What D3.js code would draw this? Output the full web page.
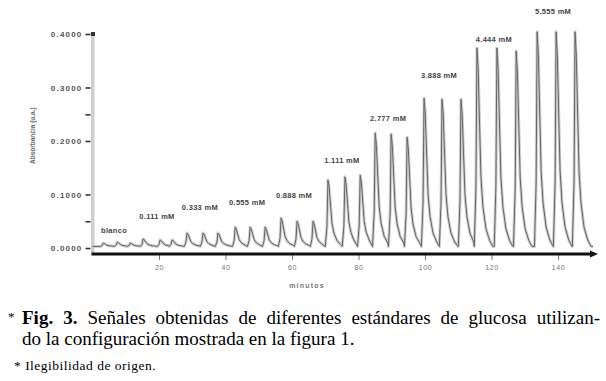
<!DOCTYPE html>
<html>
<head>
  <meta charset="utf-8">
  <title>Fig. 3</title>
  <script src="https://cdn.jsdelivr.net/npm/d3@7/dist/d3.min.js"></script>
  <style>body { margin: 0; background: #fff; }</style>
</head>
<body>
  <svg width="606" height="381" id="mainsvg"></svg>
  <script>
    // standards, three injections each
    const standards = ['blanco', '0.111 mM', '0.333 mM', '0.555 mM', '0.888 mM',
      '1.111 mM', '2.777 mM', '3.888 mM', '4.444 mM', '5.555 mM'];
    // apex time of every peak (min)
    const peakTimes = [3.2, 7.4, 11.3, 15.2, 20.3, 23.9, 28.4, 33.2, 37.7, 42.9, 47.4, 51.9,
      56.7, 61.5, 66.3, 70.8, 75.9, 80.5, 85.0, 89.8, 94.6, 99.7, 105.1, 110.8,
      115.6, 121.6, 127.4, 133.7, 139.4, 145.1];
    // apex absorbance of every peak
    const peakHeights = [0.009, 0.011, 0.009, 0.017, 0.015, 0.015, 0.028, 0.028, 0.028,
      0.039, 0.039, 0.039, 0.056, 0.050, 0.050, 0.127, 0.133, 0.136, 0.215, 0.213, 0.207,
      0.280, 0.278, 0.278, 0.374, 0.374, 0.368, 0.404, 0.404, 0.404];
    const baseLevel = 0.003;
    // shape of one peak: [minutes from apex, fraction of height]
    const peakShape = [[-0.8, 0], [-0.3, 0.3], [0, 1], [0.35, 0.9], [1.2, 0.35], [1.8, 0.2],
      [2.7, 0.09], [3.8, 0.03], [4.8, 0]];
    const yTickValues = [0, 0.05, 0.1, 0.2, 0.25, 0.3, 0.4];
    const yLabelValues = [0, 0.1, 0.2, 0.3, 0.4];
    const xTickValues = [20, 40, 60, 80, 100, 120, 140];

    const svg = d3.select('#mainsvg');
    const margin = { top: 34, left: 92.5 };
    const innerWidth = 504.5;
    const innerHeight = 214;
    const g = svg.append('g').attr('transform', `translate(${margin.left}, ${margin.top})`);

    const xScale = d3.scaleLinear().domain([0, 151.7]).range([0, innerWidth]);
    const yScale = d3.scaleLinear().domain([0, 0.4]).range([innerHeight, 0]);

    // y axis: light grey bar
    g.append('rect').attr('x', -1.5).attr('y', 0).attr('width', 3.5).attr('height', innerHeight + 6)
      .attr('fill', '#cfcfcf');

    const yAxis = d3.axisLeft(yScale).tickValues(yTickValues).tickSize(5).tickPadding(3)
      .tickFormat(d => yLabelValues.includes(d) ? d3.format('.4f')(d) : '');
    const yAxisGroup = g.append('g').attr('transform', 'translate(-2,0)').call(yAxis);
    yAxisGroup.select('.domain').remove();
    yAxisGroup.selectAll('.tick line').attr('stroke', '#333').attr('stroke-width', 1.6);
    yAxisGroup.selectAll('.tick text').attr('font-family', 'Liberation Sans, Arial')
      .attr('font-size', 8).attr('font-weight', 'bold').attr('letter-spacing', 1.2)
      .attr('fill', '#555');
    g.append('rect').attr('x', -1.5).attr('y', -2).attr('width', 4).attr('height', 4).attr('fill', '#333');

    g.append('text').text('Absorbancia (u.a.)')
      .attr('transform', `translate(-58, ${yScale(0.21)}) rotate(-90)`)
      .attr('text-anchor', 'middle').attr('font-family', 'Liberation Sans, Arial')
      .attr('font-size', 6.5).attr('font-weight', 'bold').attr('fill', '#666');

    // x axis
    const xAxis = d3.axisBottom(xScale).tickValues(xTickValues).tickSize(6).tickPadding(5);
    const xAxisGroup = g.append('g').attr('transform', `translate(0, ${innerHeight + 6})`).call(xAxis);
    xAxisGroup.select('.domain').remove();
    xAxisGroup.selectAll('.tick line').attr('stroke', '#777').attr('stroke-width', 1);
    xAxisGroup.selectAll('.tick text').attr('font-family', 'Liberation Sans, Arial')
      .attr('font-size', 7).attr('fill', '#777').attr('letter-spacing', 0.6);
    xAxisGroup.append('line').attr('x1', -1).attr('x2', innerWidth - 4)
      .attr('stroke', '#111').attr('stroke-width', 3);
    xAxisGroup.append('path')
      .attr('d', `M${innerWidth - 7},-3.5L${innerWidth + 1},0L${innerWidth - 7},3.5Z`).attr('fill', '#111');
    xAxisGroup.append('text').text('minutos')
      .attr('x', xScale(64.5)).attr('y', 34).attr('text-anchor', 'middle')
      .attr('font-family', 'Liberation Sans, Arial').attr('font-size', 7).attr('font-weight', 'bold')
      .attr('letter-spacing', 1.2).attr('fill', '#777');

    // signal trace built from the peaks
    const trace = [[0, baseLevel]];
    peakTimes.forEach((t, i) => {
      const next = i < peakTimes.length - 1 ? peakTimes[i + 1] + peakShape[0][0] : Infinity;
      peakShape.forEach(([dt, f]) => {
        if (t + dt < next) trace.push([t + dt, baseLevel + f * (peakHeights[i] - baseLevel)]);
      });
    });
    trace.push([150.5, baseLevel]);

    const line = d3.line().x(d => xScale(d[0])).y(d => yScale(d[1]));
    g.append('path').datum(trace).attr('d', line).attr('fill', 'none')
      .attr('stroke', '#cdcdcd').attr('stroke-width', 3).attr('stroke-linejoin', 'round');
    g.append('path').datum(trace).attr('d', line).attr('fill', 'none')
      .attr('stroke', '#666').attr('stroke-width', 1).attr('stroke-linejoin', 'round');

    // standard labels above each group
    const labelLift = [9, 20, 23, 22, 20, 12, 12, 20, 6, 18];
    standards.forEach((name, i) => {
      const hs = peakHeights.slice(i * 3, i * 3 + 3);
      g.append('text').text(name)
        .attr('x', xScale(peakTimes[i * 3 + 1]) - 3)
        .attr('y', yScale(d3.max(hs)) - labelLift[i])
        .attr('text-anchor', 'middle').attr('font-family', 'Liberation Sans, Arial')
        .attr('font-size', 7.5).attr('font-weight', 'bold').attr('fill', '#444')
        .attr('letter-spacing', 0.3);
    });

    // caption, first line justified word by word
    const serif = "'Liberation Serif', 'Times New Roman', serif";
    svg.append('text').text('*').attr('x', 8).attr('y', 321).style('font-family', serif)
      .attr('font-size', 13);
    const words = ['Fig.', '3.', 'Señales', 'obtenidas', 'de', 'diferentes', 'estándares', 'de',
      'glucosa', 'utilizan-'];
    const wordNodes = words.map((w, i) => svg.append('text').text(w).attr('y', 324)
      .style('font-family', serif).attr('font-size', 19)
      .attr('font-weight', i < 2 ? 'bold' : 'normal'));
    const widths = wordNodes.map(n => n.node().getComputedTextLength());
    const gap = (578 - d3.sum(widths)) / (words.length - 1);
    let cx = 22;
    wordNodes.forEach((n, i) => {
      n.attr('x', cx);
      cx += widths[i] + gap;
    });

    svg.append('text').text('do la configuración mostrada en la figura 1.')
      .attr('x', 22).attr('y', 345).style('font-family', serif).attr('font-size', 19);
    svg.append('text').text('* Ilegibilidad de origen.')
      .attr('x', 14).attr('y', 370).style('font-family', serif).attr('font-size', 13.5)
      .attr('letter-spacing', 0.5);
  </script>
</body>
</html>
